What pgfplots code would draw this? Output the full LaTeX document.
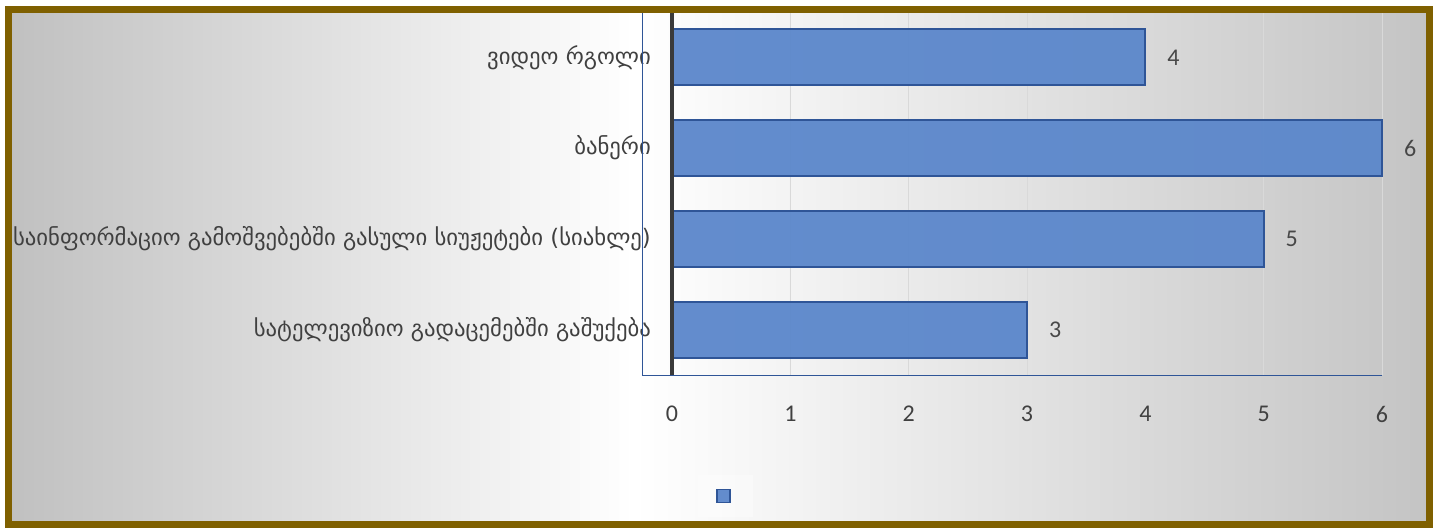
\documentclass[border=0pt]{standalone}
\usepackage{fontspec}
\usepackage{pgfplots}
\pgfplotsset{compat=1.18}
\newfontfamily\geo{DejaVu Sans}
\newfontfamily\calfont{Carlito}
\definecolor{brd}{HTML}{7F6000}
\definecolor{barfill}{HTML}{5B87CB}
\definecolor{baredge}{HTML}{2F5597}
\definecolor{txt}{HTML}{404040}
\definecolor{zline}{HTML}{3A3A3A}
\definecolor{bgL}{HTML}{C0C0C0}
\definecolor{bgR}{HTML}{C4C4C4}
\definecolor{gridc}{HTML}{D9D9D9}
\pgfdeclarehorizontalshading{bgshade}{100bp}{color(0bp)=(bgL); color(25bp)=(bgL); color(47bp)=(white); color(75bp)=(bgR); color(100bp)=(bgR)}
\begin{document}
\begin{tikzpicture}[x=1pt,y=1pt]
\useasboundingbox (0,0) rectangle (1435,531);
\fill[white] (0,0) rectangle (1435,531);
\shade[shading=bgshade] (8.5,6.5) rectangle (1429.5,521.5);
\begin{axis}[
  at={(643pt,156pt)}, anchor=south west,
  scale only axis, width=739pt, height=363pt,
  xmin=-0.2454, xmax=6, ymin=-0.5, ymax=3.5,
  clip=false,
  xbar, bar width=56pt,
  axis line style={draw=none},
  /pgf/number format/assume math mode=true,
  xtick={0,1,2,3,4,5,6},
  ytick={0,1,2,3},
  yticklabels={სატელევიზიო გადაცემებში გაშუქება, საინფორმაციო გამოშვებებში გასული სიუჟეტები (სიახლე), ბანერი, ვიდეო რგოლი},
  major tick length=0pt,
  xmajorgrids,
  grid style={gridc, line width=1pt},
  xticklabel style={font=\calfont\fontsize{24}{28}\selectfont, text=txt, anchor=center, yshift=-39pt},
  yticklabel style={font=\geo\fontsize{22.7}{27}\selectfont, text=txt, anchor=east, inner sep=0pt, xshift=8pt},
  nodes near coords,
  nodes near coords align=horizontal,
  nodes near coords style={font=\calfont\fontsize{24}{28}\selectfont, text=txt, anchor=west, inner sep=0pt, xshift=21pt},
  legend style={at={(0.1115,-0.3333)}, anchor=center, draw=none, fill=white, fill opacity=0.35, text opacity=1, inner xsep=18pt, inner ysep=14pt},
  legend image code/.code={\draw[fill=barfill, draw=baredge, line width=1.5pt] (0pt,-6.5pt) rectangle (13pt,6.5pt);},
]
\addplot[fill=barfill, fill opacity=0.95, draw=baredge, line width=2pt] coordinates {(3,0) (5,1) (6,2) (4,3)};
\addlegendentry{}
\draw[baredge, line width=1pt] (rel axis cs:0,1) -- (rel axis cs:0,0) -- (rel axis cs:1,0);
\draw[baredge!60!black, line width=1pt] (rel axis cs:0,1) -- (rel axis cs:1,1);
\draw[zline, line width=4pt] (axis cs:0,-0.5) -- (axis cs:0,3.5);
\end{axis}
\draw[brd, line width=7pt] (8.5,6.5) rectangle (1429.5,521.5);
\end{tikzpicture}
\end{document}
